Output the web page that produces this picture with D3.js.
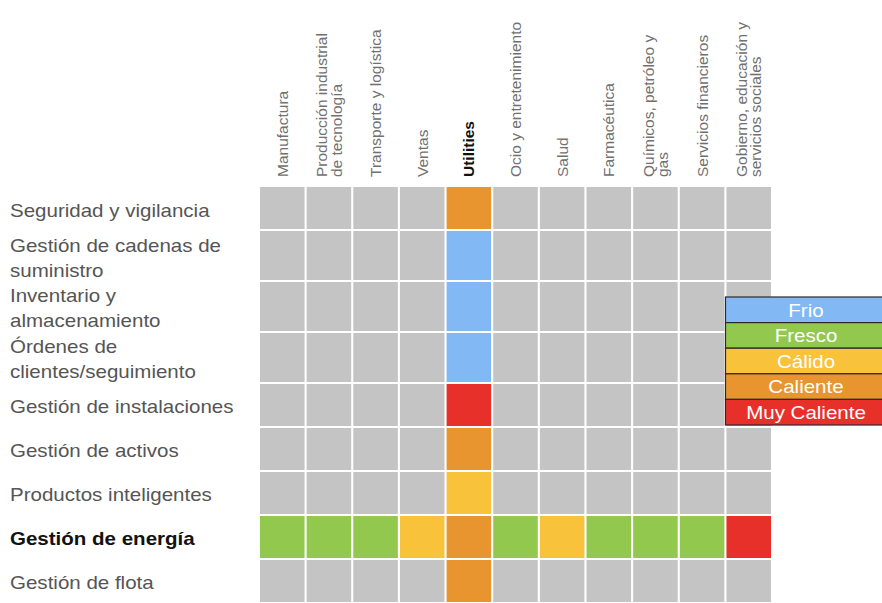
<!DOCTYPE html>
<html>
<head>
<meta charset="utf-8">
<script src="https://cdn.jsdelivr.net/npm/d3@7"></script>
<style>
  html, body { margin: 0; padding: 0; background: #ffffff; }
  svg { display: block; }
  text { font-family: "Liberation Sans", Arial, Helvetica, sans-serif; }
</style>
</head>
<body>
<svg id="chart" width="882" height="603"></svg>
<script>
// ---- Data ----
const columns = [
  ["Manufactura"],
  ["Producción industrial", "de tecnología"],
  ["Transporte y logística"],
  ["Ventas"],
  ["Utilities"],
  ["Ocio y entretenimiento"],
  ["Salud"],
  ["Farmacéutica"],
  ["Químicos, petróleo y", "gas"],
  ["Servicios financieros"],
  ["Gobierno, educación y", "servicios sociales"]
];
const rows = [
  ["Seguridad y vigilancia"],
  ["Gestión de cadenas de", "suministro"],
  ["Inventario y", "almacenamiento"],
  ["Órdenes de", "clientes/seguimiento"],
  ["Gestión de instalaciones"],
  ["Gestión de activos"],
  ["Productos inteligentes"],
  ["Gestión de energía"],
  ["Gestión de flota"]
];
const levels = ["Frio", "Fresco", "Cálido", "Caliente", "Muy Caliente"];
// 0 = sin dato, 1..5 = index into levels (+1)
const values = [
  [0, 0, 0, 0, 4, 0, 0, 0, 0, 0, 0],
  [0, 0, 0, 0, 1, 0, 0, 0, 0, 0, 0],
  [0, 0, 0, 0, 1, 0, 0, 0, 0, 0, 0],
  [0, 0, 0, 0, 1, 0, 0, 0, 0, 0, 0],
  [0, 0, 0, 0, 5, 0, 0, 0, 0, 0, 0],
  [0, 0, 0, 0, 4, 0, 0, 0, 0, 0, 0],
  [0, 0, 0, 0, 3, 0, 0, 0, 0, 0, 0],
  [2, 2, 2, 3, 4, 2, 3, 2, 2, 2, 5],
  [0, 0, 0, 0, 4, 0, 0, 0, 0, 0, 0]
];
const highlightColumn = "Utilities";
const highlightRow = "Gestión de energía";

// ---- Styles ----
const levelColors = ["#82b9f5", "#93c84f", "#f8c23b", "#e8952f", "#e8302a"];
const emptyColor = "#c4c4c4";
const sx = 1.14;

const svg = d3.select("#chart");

const color = d3.scaleOrdinal().domain(d3.range(1, levels.length + 1)).range(levelColors);

const x = d3.scaleBand()
  .domain(d3.range(columns.length))
  .range([260, 771])
  .paddingInner(0.045)
  .paddingOuter(0);

// variable row heights: two-line rows are taller
const rowUnits = rows.map(r => r.length > 1 ? 1.159 : 1);
const rowStart = [0];
rowUnits.forEach((u, i) => rowStart.push(rowStart[i] + u));
const y = d3.scaleLinear().domain([0, rowStart[rowStart.length - 1]]).range([187, 604]);
const gap = 2;

// ---- Cells ----
const cells = [];
values.forEach((r, ri) => r.forEach((v, ci) => cells.push({ ri, ci, v })));
svg.append("g").selectAll("rect").data(cells).join("rect")
  .attr("x", d => x(d.ci))
  .attr("y", d => y(rowStart[d.ri]))
  .attr("width", x.bandwidth())
  .attr("height", d => y(rowStart[d.ri + 1]) - y(rowStart[d.ri]) - gap)
  .attr("fill", d => d.v === 0 ? emptyColor : color(d.v));

// ---- Column headers (rotated) ----
const colG = svg.append("g");
columns.forEach((lines, ci) => {
  const cx = x(ci) + x.bandwidth() / 2;
  const bold = lines[0] === highlightColumn;
  lines.forEach((ln, j) => {
    const off = (j - (lines.length - 1) / 2) * 14.5;
    colG.append("text")
      .attr("transform", `translate(${cx + off},177) rotate(-90)`)
      .attr("dy", "0.35em")
      .attr("text-anchor", "start")
      .attr("font-size", 15.5)
      .attr("font-weight", bold ? "bold" : "normal")
      .attr("fill", bold ? "#111111" : "#707070")
      .text(ln);
  });
});

// ---- Row labels ----
const rowG = svg.append("g");
rows.forEach((lines, ri) => {
  const cy = (y(rowStart[ri]) + y(rowStart[ri + 1]) - gap) / 2;
  const bold = lines[0] === highlightRow;
  lines.forEach((ln, j) => {
    const by = cy + 8.5 + (j - (lines.length - 1) / 2) * 25;
    rowG.append("text")
      .attr("transform", `translate(10,${by}) scale(${sx},1)`)
      .attr("font-size", 18)
      .attr("font-weight", bold ? "bold" : "normal")
      .attr("fill", bold ? "#111111" : "#555555")
      .text(ln);
  });
});

// ---- Legend ----
const legY = d3.scaleBand().domain(levels).range([297, 425]).padding(0);
const legX0 = 725.5, legW = 162;
const leg = svg.append("g");
leg.selectAll("rect").data(levels).join("rect")
  .attr("x", legX0)
  .attr("y", d => legY(d))
  .attr("width", legW)
  .attr("height", legY.bandwidth())
  .attr("fill", (d, i) => color(i + 1))
  .attr("stroke", "#2a2a2a")
  .attr("stroke-width", 1.2);
leg.selectAll("text").data(levels).join("text")
  .attr("transform", d => `translate(${806},${legY(d) + 19.5}) scale(${sx},1)`)
  .attr("text-anchor", "middle")
  .attr("font-size", 18)
  .attr("fill", "#ffffff")
  .text(d => d);
</script>
</body>
</html>
